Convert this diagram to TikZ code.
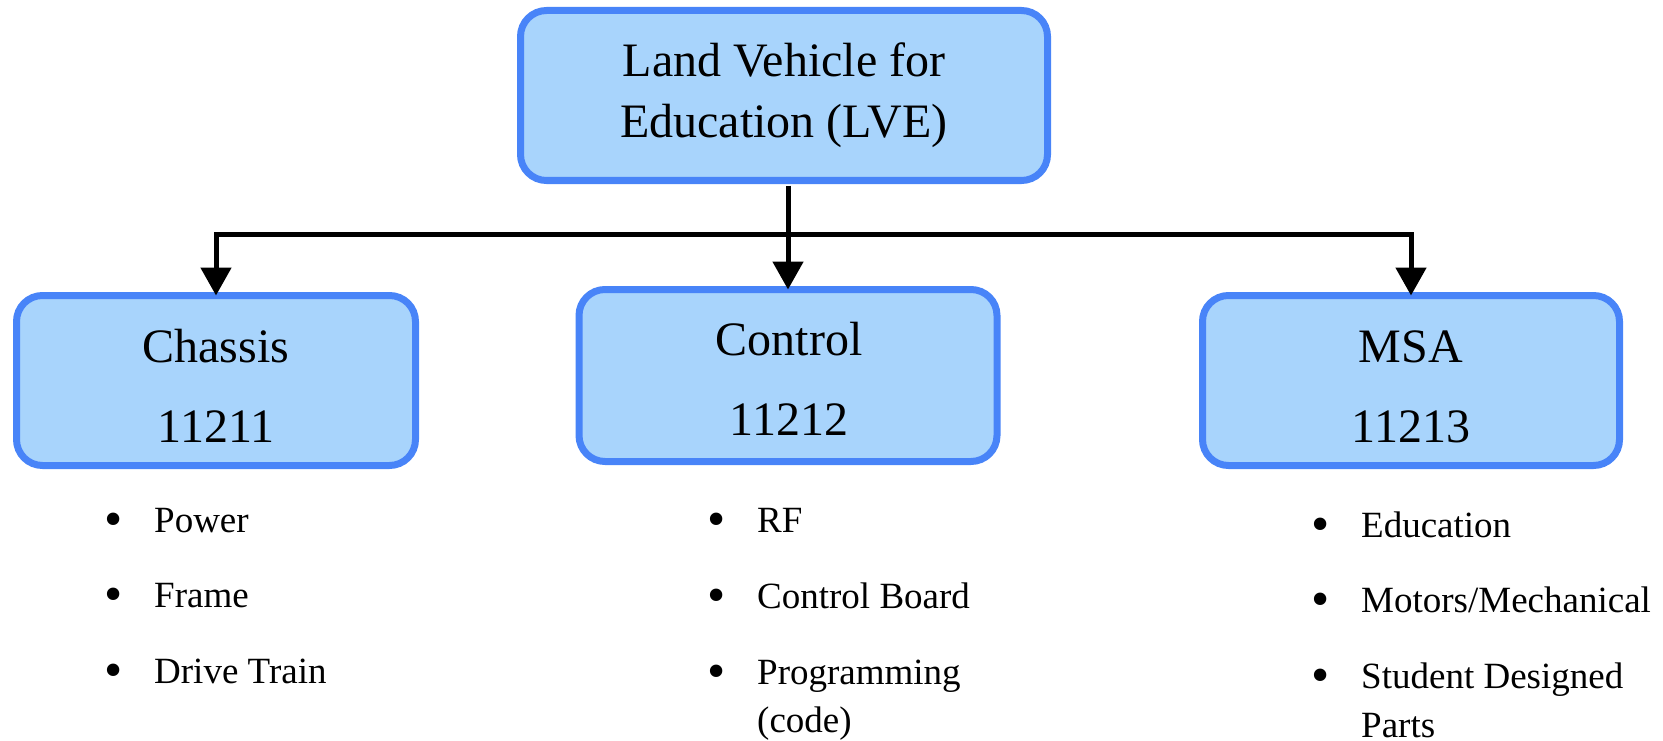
\documentclass[tikz,border=0pt]{standalone}
\usepackage{fontspec}
\setmainfont{Liberation Serif}
\usetikzlibrary{arrows.meta}
\definecolor{boxfill}{RGB}{168,212,252}
\definecolor{boxline}{RGB}{72,132,248}
\tikzset{
  box/.style={draw=boxline, fill=boxfill, line width=7pt, rounded corners=26pt, inner sep=0pt, outer sep=0pt},
  boxtext/.style={anchor=base, inner sep=0pt, font=\fontsize{48}{58}\selectfont},
  bul/.style={anchor=north, inner sep=0pt, yshift=19.5pt, font=\fontsize{52}{56}\selectfont},
  item/.style={anchor=base west, inner sep=0pt, font=\fontsize{37}{48}\selectfont},
  arr/.style={line width=5pt, -{Triangle[width=30pt,length=28pt]}},
}
\begin{document}
\begin{tikzpicture}[x=1pt,y=-1pt]
\useasboundingbox (0,0) rectangle (1663,741);
% boxes
\node[box, minimum width=527pt, minimum height=170pt] (top) at (784,95.5) {};
\node[box, minimum width=399pt, minimum height=170pt] (chassis) at (216,380.5) {};
\node[box, minimum width=418pt, minimum height=172pt] (control) at (788,375.5) {};
\node[box, minimum width=417pt, minimum height=170pt] (msa) at (1411,380.5) {};
% box texts
\node[boxtext] (topA) at (784,77) {Land Vehicle for};
\node[boxtext] (topB) at (784,138) {Education (LVE)};
\node[boxtext] (chA) at (216,362) {Chassis};
\node[boxtext] (chB) at (216,442) {11211};
\node[boxtext] (coA) at (789,355) {Control};
\node[boxtext] (coB) at (789,435) {11212};
\node[boxtext] (msA) at (1411,362) {MSA};
\node[boxtext] (msB) at (1411,442) {11213};
% connectors
\coordinate (src) at ([yshift=-5pt]top.south);
\coordinate (bus) at (788,234);
\draw[arr] (src -| control.north) -- (control.north);
\draw[arr] (bus) -| (chassis.north);
\draw[arr] (bus) -| (msa.north);
% chassis list
\node[bul] (b11) at (114,532) {•};
\node[item] (i11) at (154,532) {Power};
\node[bul] (b12) at (114,607) {•};
\node[item] (i12) at (154,607) {Frame};
\node[bul] (b13) at (114,683) {•};
\node[item] (i13) at (154,683) {Drive Train};
% control list
\node[bul] (b21) at (717,532) {•};
\node[item] (i21) at (757,532) {RF};
\node[bul] (b22) at (717,608) {•};
\node[item] (i22) at (757,608) {Control Board};
\node[bul] (b23) at (717,684) {•};
\node[item] (i23) at (757,684) {Programming};
\node[item] (i24) at (757,732) {(code)};
% msa list
\node[bul] (b31) at (1321,537) {•};
\node[item] (i31) at (1361,537) {Education};
\node[bul] (b32) at (1321,612) {•};
\node[item] (i32) at (1361,612) {Motors/Mechanical};
\node[bul] (b33) at (1321,688) {•};
\node[item] (i33) at (1361,688) {Student Designed};
\node[item] (i34) at (1361,737) {Parts};
\end{tikzpicture}
\end{document}
